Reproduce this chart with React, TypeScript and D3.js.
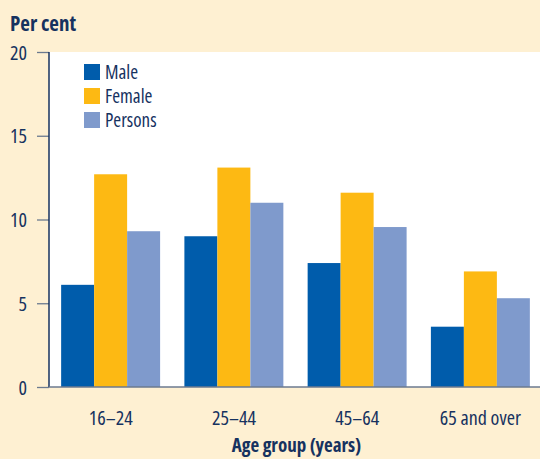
import React, { useEffect, useRef } from "react";
import * as d3 from "d3";

const ageGroups = ["16–24", "25–44", "45–64", "65 and over"];
const seriesNames = ["Male", "Female", "Persons"];
const maleValues = [6.1, 9.0, 7.4, 3.6];
const femaleValues = [12.7, 13.1, 11.6, 6.9];
const personsValues = [9.3, 11.0, 9.55, 5.3];
const yTicks = [0, 5, 10, 15, 20];

const colors = ["#005CAB", "#FDB913", "#7F9ACC"];
const NAVY = "#16325F";
const FONT = "'Open Sans', sans-serif";
const STRETCH = "semi-condensed";

export default function App() {
  const ref = useRef<SVGSVGElement>(null);

  useEffect(() => {
    document.body.style.margin = "0";
    const width = 540, height = 459;
    const m = { l: 49, r: 0, t: 52, b: 72 };
    const svg = d3.select(ref.current);
    svg.selectAll("*").remove();

    svg.append("rect").attr("width", width).attr("height", height).attr("fill", "#FEF0D2");

    const x = d3.scaleBand().domain(ageGroups).range([m.l, 542]).paddingInner(0.197).paddingOuter(0.0985);
    const xs = d3.scaleBand().domain(seriesNames).range([0, x.bandwidth()]);
    const y = d3.scaleLinear().domain([0, 20]).range([height - m.b, m.t]);

    svg.append("rect").attr("x", m.l).attr("y", m.t).attr("width", width - m.l).attr("height", y(0) - m.t).attr("fill", "#fff");

    const series = [maleValues, femaleValues, personsValues];
    series.forEach((vals, si) => {
      svg.append("g").selectAll("rect").data(vals).join("rect")
        .attr("x", (_, i) => (x(ageGroups[i]) as number) + (xs(seriesNames[si]) as number))
        .attr("width", xs.bandwidth())
        .attr("y", d => y(d))
        .attr("height", d => y(0) - y(d))
        .attr("fill", colors[si]);
    });

    const style = (sel: any, size: number, bold = false) =>
      sel.attr("fill", NAVY).attr("font-size", size).attr("font-family", FONT)
        .attr("font-weight", bold ? "bold" : "normal").style("font-stretch", STRETCH);

    // y axis
    const ya = svg.append("g").attr("transform", `translate(${m.l},0)`)
      .call(d3.axisLeft(y).tickValues(yTicks).tickSize(12).tickPadding(10).tickFormat(d3.format("d")));
    ya.select(".domain").remove();
    ya.selectAll(".tick line").attr("stroke", "#6B7A8F").attr("stroke-width", 1.3);
    style(ya.selectAll(".tick text"), 20).attr("dy", "0.36em");
    svg.append("line").attr("x1", m.l).attr("x2", m.l).attr("y1", m.t).attr("y2", y(0))
      .attr("stroke", NAVY).attr("stroke-width", 1.5);
    svg.append("line").attr("x1", m.l).attr("x2", width).attr("y1", y(0)).attr("y2", y(0))
      .attr("stroke", "#6B7A8F").attr("stroke-width", 1.5);

    // x labels
    const xa = svg.append("g").attr("transform", `translate(0,${y(0)})`)
      .call(d3.axisBottom(x).tickSize(0).tickPadding(24));
    xa.select(".domain").remove();
    style(xa.selectAll(".tick text"), 20);

    style(svg.append("text").attr("x", 10).attr("y", 31).text("Per cent"), 21, true);
    style(svg.append("text").attr("x", (m.l + width) / 2 + 2).attr("y", 452).text("Age group (years)")
      .attr("text-anchor", "middle"), 19, true);

    // legend
    const lg = svg.append("g").attr("transform", "translate(84,64)");
    seriesNames.forEach((name, i) => {
      lg.append("rect").attr("x", 0).attr("y", i * 24).attr("width", 16).attr("height", 16).attr("fill", colors[i]);
      style(lg.append("text").attr("x", 21).attr("y", i * 24 + 14.5).text(name), 19);
    });
  }, []);

  return <svg ref={ref} width={540} height={459} style={{ display: "block" }} />;
}
